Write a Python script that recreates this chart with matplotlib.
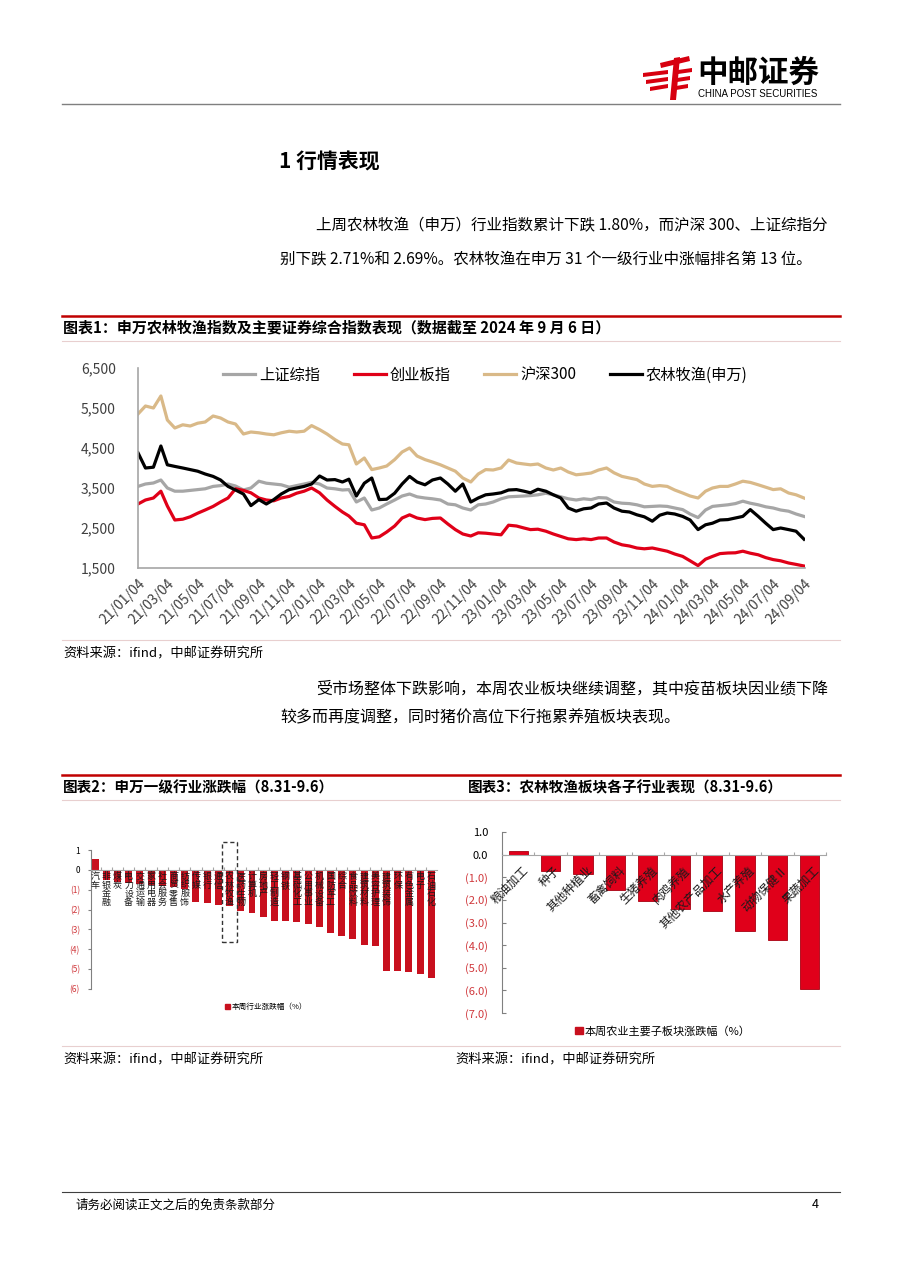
import numpy as np
import pandas as pd
import matplotlib
matplotlib.use("Agg")
import matplotlib.pyplot as plt
from matplotlib.patches import Rectangle, Polygon, Patch
from matplotlib.lines import Line2D

plt.rcParams['font.family'] = ['Noto Sans CJK SC', 'DejaVu Sans']

# ---- chart 1 data: half-monthly readings (4th and 19th of each month) ----
dates = pd.to_datetime([f"{2021 + (i // 2) // 12}-{(i // 2) % 12 + 1:02d}-{4 if i % 2 == 0 else 19}"
                        for i in range(89)])

sse_comp = [3540, 3600, 3625, 3700, 3500, 3420, 3420, 3440, 3460, 3480,
            3540, 3560, 3600, 3550, 3450, 3500, 3670, 3620, 3600, 3580,
            3520, 3560, 3600, 3640, 3600, 3500, 3480, 3450, 3460, 3150,
            3250, 2950, 3000, 3100, 3200, 3300, 3350, 3280, 3250, 3230,
            3200, 3100, 3080, 3000, 2950, 3080, 3100, 3150, 3230, 3280,
            3290, 3300, 3310, 3330, 3370, 3330, 3280, 3230, 3200, 3230,
            3210, 3260, 3250, 3150, 3120, 3110, 3080, 3030, 3040, 3050,
            3040, 3000, 2960, 2850, 2760, 2950, 3040, 3060, 3080, 3110,
            3170, 3120, 3080, 3030, 3000, 2950, 2920, 2850, 2790]

chinext = [3100, 3200, 3250, 3420, 3050, 2700, 2720, 2780, 2870, 2950,
           3040, 3150, 3250, 3480, 3440, 3380, 3250, 3200, 3180, 3250,
           3290, 3370, 3420, 3500, 3380, 3200, 3040, 2900, 2800, 2620,
           2580, 2250, 2280, 2400, 2550, 2750, 2830, 2750, 2710, 2740,
           2750, 2600, 2460, 2350, 2300, 2380, 2370, 2350, 2330, 2570,
           2550, 2500, 2460, 2470, 2420, 2350, 2290, 2230, 2210, 2230,
           2210, 2250, 2250, 2150, 2080, 2050, 2000, 1980, 2000, 1960,
           1920, 1850, 1790, 1680, 1560, 1720, 1790, 1860, 1875, 1880,
           1920, 1870, 1830, 1760, 1710, 1680, 1625, 1590, 1550]

csi300 = [5350, 5550, 5500, 5800, 5200, 5000, 5080, 5050, 5120, 5150,
          5300, 5250, 5150, 5100, 4850, 4900, 4880, 4850, 4830, 4880,
          4920, 4900, 4920, 5060, 4960, 4850, 4710, 4600, 4580, 4100,
          4250, 3960, 4000, 4050, 4210, 4400, 4500, 4300, 4210, 4150,
          4080, 4000, 3920, 3750, 3650, 3850, 3960, 3950, 4000, 4200,
          4125, 4100, 4080, 4100, 4000, 3950, 4000, 3900, 3830, 3850,
          3875, 3950, 4000, 3880, 3790, 3750, 3710, 3600, 3540, 3560,
          3540, 3450, 3375, 3300, 3250, 3420, 3500, 3540, 3540, 3600,
          3670, 3640, 3580, 3520, 3460, 3480, 3375, 3330, 3250]

agri_sw = [4380, 4000, 4020, 4550, 4080, 4040, 4000, 3960, 3920, 3850,
           3790, 3700, 3540, 3450, 3350, 3060, 3210, 3100, 3210, 3350,
           3460, 3500, 3540, 3600, 3800, 3700, 3710, 3650, 3720, 3300,
           3620, 3750, 3210, 3220, 3370, 3600, 3790, 3650, 3580, 3700,
           3750, 3600, 3420, 3600, 3150, 3250, 3330, 3350, 3380, 3450,
           3460, 3420, 3380, 3470, 3420, 3330, 3250, 3000, 2920, 2980,
           3000, 3100, 3125, 3000, 2920, 2900, 2830, 2780, 2670, 2820,
           2875, 2850, 2790, 2700, 2460, 2580, 2620, 2700, 2710, 2750,
           2790, 2960, 2790, 2620, 2460, 2500, 2460, 2420, 2220]

series_names = ['上证综指', '创业板指', '沪深300', '农林牧渔(申万)']
tick_dates = pd.to_datetime([f"{2021 + m // 12}-{m % 12 + 1:02d}-04" for m in range(0, 45, 2)])

# ---- chart 2 data: SW level-1 industries, weekly change (%) ----
ind_names = ['汽车', '非银金融', '煤炭', '电力设备', '交通运输', '家用电器', '社会服务', '商贸零售',
             '纺织服饰', '传媒', '银行', '通信', '农林牧渔', '医药生物', '计算机', '房地产',
             '轻工制造', '钢铁', '基础化工', '公用事业', '机械设备', '国防军工', '综合', '食品饮料',
             '建筑材料', '美容护理', '建筑装饰', '环保', '有色金属', '电子', '石油石化']
ind_chg = [0.55, -0.50, -0.60, -0.67, -0.70, -0.75, -0.80, -0.85,
           -0.95, -1.60, -1.65, -1.75, -1.80, -2.05, -2.19, -2.39,
           -2.58, -2.60, -2.63, -2.74, -2.86, -3.16, -3.33, -3.50,
           -3.79, -3.84, -5.08, -5.10, -5.13, -5.25, -5.44]
highlight = '农林牧渔'

# ---- chart 3 data: agriculture sub-sectors ----
sub_names = ['粮油加工', '种子', '其他种植业', '畜禽饲料', '生猪养殖', '肉鸡养殖',
             '其他农产品加工', '水产养殖', '动物保健Ⅱ', '果蔬加工']
sub_chg = [0.15, -0.71, -0.84, -1.55, -2.04, -2.39, -2.48, -3.36, -3.78, -5.94]

W, H = 905, 1280
fig = plt.figure(figsize=(W / 100, H / 100), dpi=100, facecolor='white')


def fy(y):
    return 1 - y / H


def add_ax(l, t, r, b):
    return fig.add_axes([l / W, 1 - b / H, (r - l) / W, (b - t) / H])


def ftext(x, y, s, **kw):
    fig.text(x / W, fy(y), s, **kw)


def hline(y, x0=62, x1=840, **kw):
    fig.add_artist(Line2D([x0 / W, x1 / W], [fy(y), fy(y)], transform=fig.transFigure, **kw))


def poly(pts, color='#D7000F'):
    fig.add_artist(Polygon([(x / W, fy(y)) for x, y in pts], closed=True,
                           transform=fig.transFigure, color=color, lw=0))


# ---- header ----
poly([(660, 63), (689, 56), (690, 61), (661, 68)])
poly([(643, 73), (668, 70), (668, 74), (643, 77)])
poly([(646, 80), (668, 77), (668, 81), (646, 84)])
poly([(650, 87), (668, 84), (668, 88), (650, 91)])
poly([(674, 58), (680, 57), (676, 100), (670, 100)])
poly([(678, 70), (692, 68), (692, 72), (678, 74)])
poly([(677, 78), (690, 76), (690, 80), (677, 82)])
poly([(676, 86), (688, 84), (688, 88), (676, 90)])
ftext(697, 73, '中邮证券', fontsize=22, fontweight='bold', va='center', ha='left')
ftext(698, 94, 'CHINA POST SECURITIES', fontsize=7, va='center', ha='left',
      family=['Liberation Sans', 'DejaVu Sans'])
hline(104, 62, 840, color='#7F7F7F', lw=1)

# ---- section text ----
ftext(279, 162, '1 行情表现', fontsize=15, fontweight='bold', va='center')
ftext(316, 226, '上周农林牧渔（申万）行业指数累计下跌 1.80%，而沪深 300、上证综指分',
      fontsize=11.2, va='center')
ftext(280, 260, '别下跌 2.71%和 2.69%。农林牧渔在申万 31 个一级行业中涨幅排名第 13 位。',
      fontsize=11.2, va='center')

hline(316, color='#C00000', lw=1.8)
ftext(63, 327, '图表1：申万农林牧渔指数及主要证券综合指数表现（数据截至 2024 年 9 月 6 日）',
      fontsize=10.8, fontweight='bold', va='center')
hline(341, color='#E8CFCF', lw=0.8)
hline(640, color='#E8CFCF', lw=0.8)
ftext(63, 654, '资料来源：ifind，中邮证券研究所', fontsize=9.5, va='center')

ftext(316, 689, '受市场整体下跌影响，本周农业板块继续调整，其中疫苗板块因业绩下降',
      fontsize=11.5, va='center')
ftext(280, 718, '较多而再度调整，同时猪价高位下行拖累养殖板块表现。', fontsize=11.5, va='center')

hline(775, color='#C00000', lw=1.8)
ftext(63, 787, '图表2：申万一级行业涨跌幅（8.31-9.6）', fontsize=10.5, fontweight='bold', va='center')
ftext(468, 787, '图表3：农林牧渔板块各子行业表现（8.31-9.6）', fontsize=10.5, fontweight='bold', va='center')
hline(800, color='#E8CFCF', lw=0.8)
hline(1046, color='#E8CFCF', lw=0.8)
ftext(63, 1060, '资料来源：ifind，中邮证券研究所', fontsize=9.5, va='center')
ftext(455, 1060, '资料来源：ifind，中邮证券研究所', fontsize=9.5, va='center')

hline(1192, 62, 840, color='#404040', lw=0.8)
ftext(75, 1205, '请务必阅读正文之后的免责条款部分', fontsize=9, va='center')
ftext(812, 1205, '4', fontsize=9, va='center')

# ---- chart 1 ----
ax1 = add_ax(138, 368, 805, 568)
ax1.plot(dates, sse_comp, color='#A6A6A6', lw=2.3, label=series_names[0])
ax1.plot(dates, chinext, color='#E00018', lw=2.3, label=series_names[1])
ax1.plot(dates, csi300, color='#D9B988', lw=2.3, label=series_names[2])
ax1.plot(dates, agri_sw, color='black', lw=2.3, label=series_names[3])
ax1.set_ylim(1500, 6500)
ax1.set_xlim(pd.Timestamp('2021-01-04'), pd.Timestamp('2024-09-06'))
yt = np.arange(1500, 6501, 1000)
ax1.set_yticks(yt)
ax1.set_yticklabels([f'{v:,}' for v in yt], fontsize=10, color='#404040')
ax1.set_xticks(tick_dates)
ax1.set_xticklabels([d.strftime('%y/%m/%d') for d in tick_dates], rotation=45, ha='right', va='top',
                    rotation_mode='anchor', fontsize=10, color='#404040')
ax1.tick_params(axis='y', length=0, pad=16)
ax1.tick_params(axis='x', length=0, pad=6)
for s in ['top', 'right']:
    ax1.spines[s].set_visible(False)
for s in ['left', 'bottom']:
    ax1.spines[s].set_color('#A6A6A6')
    ax1.spines[s].set_linewidth(1.2)
ax1.legend(loc='center left', bbox_to_anchor=(0.128, 0.965), ncol=4, frameon=False, fontsize=11,
           handlelength=2.1, handletextpad=0.25, columnspacing=2.2, borderpad=0, borderaxespad=0)

# ---- chart 2 ----
red_neg = '#D0383C'
ax2 = add_ax(91, 850, 437, 989)
x2 = np.arange(len(ind_names))
ax2.bar(x2, ind_chg, width=0.62, color='#C8101E', zorder=2)
ax2.set_xlim(-0.36, len(ind_names) - 0.5)
ax2.set_ylim(-6, 1)
for s in ['top', 'right']:
    ax2.spines[s].set_visible(False)
ax2.spines['bottom'].set_position(('data', 0))
ax2.spines['bottom'].set_color('#A6A6A6')
ax2.spines['left'].set_color('#808080')
ax2.set_xticks(x2[:-1] + 0.5)
ax2.set_xticklabels([])
ax2.tick_params(axis='x', direction='in', length=2, color='#A6A6A6')
ax2.set_yticks(range(-6, 2))
ax2.set_yticklabels([f'({-v})' if v < 0 else str(v) for v in range(-6, 2)], fontsize=6)
for lab, v in zip(ax2.get_yticklabels(), range(-6, 2)):
    lab.set_color(red_neg if v < 0 else 'black')
ax2.tick_params(axis='y', direction='out', length=2, pad=6, color='#808080')
for i, name in enumerate(ind_names):
    ax2.text(i, -0.12, '\n'.join(name), ha='center', va='top', fontsize=6.5, linespacing=0.92,
             color='#1A1A1A', zorder=3)
hi = ind_names.index(highlight)
ax2.add_patch(Rectangle((hi - 0.67, -3.63), 1.33, 5.03, fill=False, ls=(0, (3, 2)), lw=1.0,
                        edgecolor='#333333', clip_on=False, zorder=4))
ax2.legend(handles=[Patch(color='#C8101E', label='本周行业涨跌幅（%）')],
           loc='center left', bbox_to_anchor=(225 / W, fy(1007)), bbox_transform=fig.transFigure,
           frameon=False, fontsize=5.5, handlelength=0.7, handleheight=0.7, handletextpad=0.2,
           borderpad=0, borderaxespad=0)

# ---- chart 3 ----
ax3 = add_ax(502, 832, 826, 1013)
x3 = np.arange(len(sub_names))
ax3.bar(x3, sub_chg, width=0.59, color='#E0001A', edgecolor='#A80010', lw=0.6, zorder=2)
ax3.set_xlim(-0.5, len(sub_names) - 0.5)
ax3.set_ylim(-7, 1)
for s in ['top', 'right']:
    ax3.spines[s].set_visible(False)
ax3.spines['bottom'].set_position(('data', 0))
ax3.spines['bottom'].set_color('#A6A6A6')
ax3.spines['left'].set_color('#808080')
ax3.set_xticks(np.arange(len(sub_names) + 1) - 0.5)
ax3.set_xticklabels([])
ax3.tick_params(axis='x', direction='in', length=2, color='#A6A6A6')
ax3.set_yticks(range(-7, 2))
ax3.set_yticklabels([f'({-v:.1f})' if v < 0 else f'{v:.1f}' for v in range(-7, 2)], fontsize=8)
for lab, v in zip(ax3.get_yticklabels(), range(-7, 2)):
    lab.set_color(red_neg if v < 0 else 'black')
ax3.tick_params(axis='y', direction='in', length=3, pad=10, color='#808080')
for i, name in enumerate(sub_names):
    ax3.text(i + 0.1, -0.4, name, rotation=45, ha='right', va='top', rotation_mode='anchor',
             fontsize=8.5, color='#1A1A1A', zorder=3)
ax3.legend(handles=[Patch(color='#C8101E', label='本周农业主要子板块涨跌幅（%）')],
           loc='center left', bbox_to_anchor=(575 / W, fy(1031)), bbox_transform=fig.transFigure,
           frameon=False, fontsize=8, handlelength=0.7, handleheight=0.7, handletextpad=0.2,
           borderpad=0, borderaxespad=0)

fig.savefig('out.png', dpi=100, facecolor='white')
